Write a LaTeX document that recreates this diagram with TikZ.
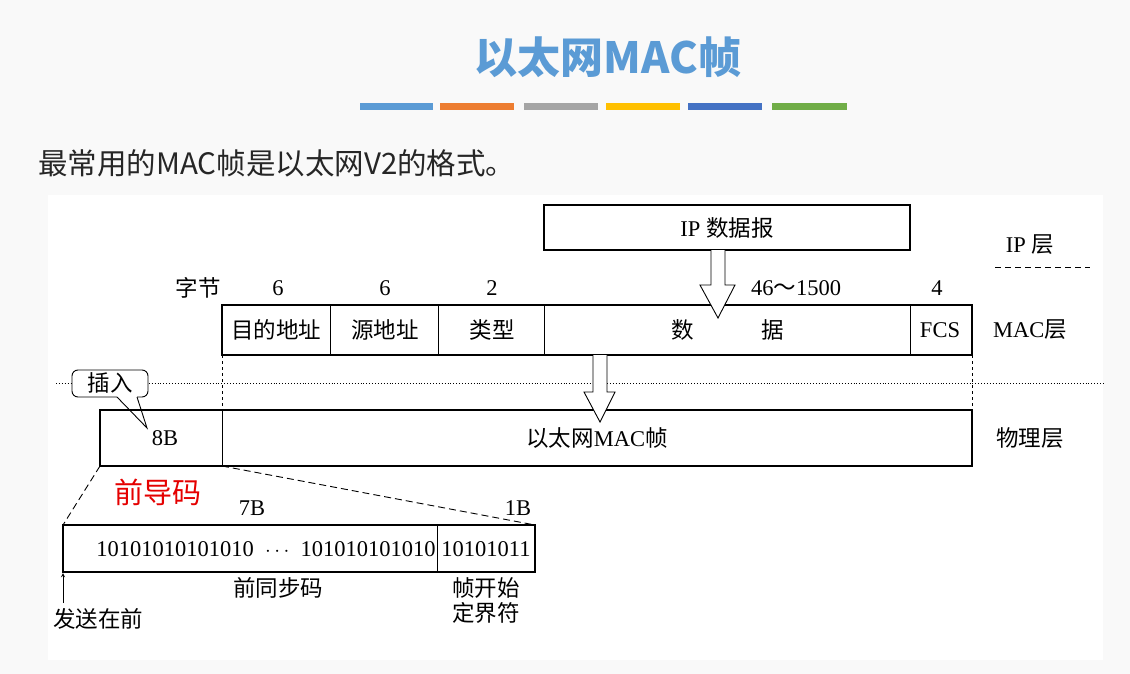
\documentclass[tikz,border=0pt]{standalone}
\usepackage{fontspec}
\setmainfont{Liberation Serif}
\newfontfamily\cjk{Noto Sans CJK SC}
\definecolor{tblue}{HTML}{5B9BD5}
\definecolor{torange}{HTML}{ED7D31}
\definecolor{tgray}{HTML}{A5A5A5}
\definecolor{tyellow}{HTML}{FFC000}
\definecolor{tdblue}{HTML}{4472C4}
\definecolor{tgreen}{HTML}{70AD47}
\begin{document}
\begin{tikzpicture}[x=1pt,y=-1pt,
  lbl/.style={font=\fontsize{22.5}{25}\selectfont, inner sep=0pt},
  box/.style={draw, line width=1.6pt},
  thin/.style={line width=0.9pt},
  hollow/.style={draw, fill=white, line width=0.9pt}]
\useasboundingbox (0,0) rectangle (1130,674);
\fill[white!97.5!black] (0,0) rectangle (1130,674);
\fill[white] (48,195) rectangle (1103,660);
% title
\node (title) at (608,57) {\fontsize{43}{45}\selectfont\cjk\bfseries\color{tblue}以太网MAC帧};
\foreach \a/\b/\c in {360/433/tblue,440/514/torange,524/598/tgray,606/680/tyellow,688/762/tdblue,772/847/tgreen}
  \fill[\c] (\a,103) rectangle (\b,110);
\node[anchor=west, inner sep=0pt] (sub) at (38,163) {\fontsize{29.5}{31}\selectfont\cjk\color{black!85}最常用的MAC帧是以太网V2的格式。};
% IP box
\draw[box] (544,205) rectangle (910,250);
\node[lbl] (ip) at (727,228) {IP {\cjk 数据报}};
\node[lbl] (iplayer) at (1030,245) {IP {\cjk 层}};
\draw[thin, dashed, dash pattern=on 6pt off 4pt] (995,267) -- (1090,267);
% byte labels
\node[lbl] at (198,288) {\cjk 字节};
\node[lbl] at (278,288) {6};
\node[lbl] at (385,288) {6};
\node[lbl] at (492,288) {2};
\node[lbl] at (796,288) {46{\cjk ～}1500};
\node[lbl] at (937,288) {4};
% MAC box
\draw[box] (222,305) rectangle (972,355);
\foreach \x in {330,438,544,910} \draw[thin] (\x,305) -- (\x,355);
\node[lbl] at (276,330) {\cjk 目的地址};
\node[lbl] at (385,330) {\cjk 源地址};
\node[lbl] at (492,330) {\cjk 类型};
\node[lbl] at (683,330) {\cjk 数};
\node[lbl] at (773,330) {\cjk 据};
\node[lbl] at (940,330) {FCS};
\node[lbl] at (1030,330) {MAC{\cjk 层}};
% hollow arrows
\draw[hollow] (711,250) -- (711,285) -- (700,285) -- (718,318) -- (735,285) -- (725,285) -- (725,250);
% dotted line
\draw[thin, dotted] (56,383) -- (1103,383);
\draw[thin, dashed] (222,355) -- (222,410);
\draw[thin, dashed] (972,355) -- (972,410);
% physical box
\draw[box] (100,410) rectangle (972,466);
\draw[thin] (222,410) -- (222,466);
\draw[hollow] (593,355) -- (593,392) -- (584,392) -- (600,422) -- (615,392) -- (607,392) -- (607,355);
\node[lbl] at (165,438) {8B};
\node[lbl] at (597,438) {{\cjk 以太网}MAC{\cjk 帧}};
\node[lbl] at (1030,438) {\cjk 物理层};
% callout
\draw[thin, fill=white, rounded corners=6pt] (72,370) rectangle (148,397);
\fill[white] (117,395.5) rectangle (137,399);
\draw[thin] (117,397) -- (147,428) -- (137,397);
\node[lbl] (ins) at (110,383) {\cjk 插入};
% preamble
\node (pre) at (158,492) {\fontsize{29}{31}\selectfont\cjk\color{red!90!black}前导码};
\draw[thin, dashed, dash pattern=on 7pt off 4pt] (100,466) -- (63,525);
\draw[thin, dashed, dash pattern=on 7pt off 4pt] (222,466) -- (535,525);
\draw[box] (63,525) rectangle (535,572);
\draw[thin] (437,525) -- (437,572);
\node[lbl] at (252,508) {7B};
\node[lbl] at (518,508) {1B};
\node[lbl] at (266,549) {10101010101010 \ $\cdots$ \ 101010101010};
\node[lbl] at (486,549) {10101011};
\draw[thin, -stealth] (63,603) -- (63,573);
\node[lbl] at (98,619) {\cjk 发送在前};
\node[lbl] at (278,588) {\cjk 前同步码};
\node[lbl, align=center] at (486,601) {\cjk 帧开始\\[0pt]\cjk 定界符};
\end{tikzpicture}
\end{document}
